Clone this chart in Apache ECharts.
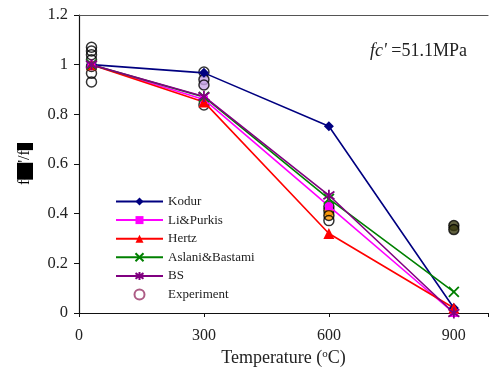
<!DOCTYPE html>
<html>
<head>
<meta charset="utf-8">
<script src="https://cdn.jsdelivr.net/npm/echarts@6/dist/echarts.min.js"></script>
<style>
  html, body { margin: 0; padding: 0; background: #fff; }
  #chart { width: 491px; height: 373px; }
</style>
</head>
<body>
<div id="chart"></div>
<script>
// model curves, temperatures in °C
const temps = [30, 300, 600, 900]
const kodur = [1.0, 0.967, 0.752, 0.02]
const liPurkis = [1.0, 0.86, 0.43, 0.0]
const hertz = [1.0, 0.85, 0.32, 0.02]
const aslani = [1.0, 0.87, 0.46, 0.085]
const bs = [1.0, 0.872, 0.474, 0.0]

// test results
const expTemps = [30, 30, 30, 30, 30, 30, 30, 300, 300, 300, 300, 600, 600, 600, 600, 900, 900]
const expValues = [1.07, 1.055, 1.04, 1.02, 0.993, 0.965, 0.93, 0.97, 0.94, 0.918, 0.838, 0.428, 0.412, 0.393, 0.372, 0.352, 0.336]
const expFill = ['none', 'none', 'none', 'none', 'none', 'none', 'none', 'none', '#c9a8e8', '#c9a8e8', 'none', '#b98fe0', '#ff9900', '#ff9900', 'none', '#3a3a10', '#3a3a10']

const yTicks = [0, 0.2, 0.4, 0.6, 0.8, 1, 1.2]
const xTicks = [0, 300, 600, 900]

const serif = '"Liberation Serif", "DejaVu Serif", serif'
const pair = (xs, ys) => xs.map((x, i) => [x, ys[i]])

const crossPath = 'path://M0,0L10,10M10,0L0,10'
const starPath = 'path://M0,1.5L10,8.5M10,1.5L0,8.5M5,0L5,10'

function lineSeries(name, values, color, symbol, size, stroked) {
  return {
    name: name,
    type: 'line',
    data: pair(temps, values),
    symbol: symbol,
    symbolSize: size,
    lineStyle: { color: color, width: 1.6 },
    itemStyle: stroked
      ? { color: 'rgba(0,0,0,0)', borderColor: color, borderWidth: 1.8 }
      : { color: color },
    emphasis: { disabled: true }
  }
}

const chart = echarts.init(document.getElementById('chart'))

chart.setOption({
  animation: false,
  textStyle: { fontFamily: serif },
  grid: { left: 79, right: 0, top: 15, bottom: 60 },
  legend: {
    orient: 'vertical',
    left: 110,
    top: 190,
    itemWidth: 47,
    itemHeight: 10,
    itemGap: 5.6,
    textStyle: { fontFamily: serif, fontSize: 13, color: '#222' },
    data: [
      'Kodur', 'Li&Purkis', 'Hertz', 'Aslani&Bastami', 'BS',
      { name: 'Experiment', icon: 'circle', itemStyle: { color: '#fff', borderColor: '#993366', borderWidth: 2 } }
    ]
  },
  graphic: [{
    type: 'text',
    left: 370,
    top: 42,
    style: {
      text: '{i|fc\'} =51.1MPa',
      font: '18px ' + serif,
      fill: '#222',
      rich: { i: { fontStyle: 'italic', fontFamily: serif, fontSize: 18 } }
    }
  }],
  xAxis: [{
    type: 'value',
    min: 0,
    max: 982,
    interval: 300,
    name: 'Temperature ({s|o}C)',
    nameLocation: 'middle',
    nameGap: 36,
    nameTextStyle: {
      fontFamily: serif, fontSize: 18, color: '#222',
      rich: { s: { fontSize: 11, verticalAlign: 'top', padding: [0, 0, 7, 0], fontFamily: serif } }
    },
    axisLine: { lineStyle: { color: '#111', width: 1.2 } },
    axisTick: { show: true, length: 4, lineStyle: { color: '#111' } },
    axisLabel: {
      margin: 15, fontSize: 16, color: '#222', fontFamily: serif,
      formatter: v => (xTicks.includes(v) ? String(v) : '')
    },
    splitLine: { show: false }
  }, {
    type: 'value',
    position: 'top',
    min: 0,
    max: 982,
    axisLine: { show: true, lineStyle: { color: '#555', width: 1.2 } },
    axisTick: { show: false },
    axisLabel: { show: false },
    splitLine: { show: false }
  }],
  yAxis: {
    type: 'value',
    min: 0,
    max: 1.2,
    interval: 0.2,
    name: 'f{k|cT}\'/f{k|c}',
    nameLocation: 'middle',
    nameGap: 46,
    nameTextStyle: {
      fontFamily: serif, fontSize: 16, color: '#000',
      rich: { k: { backgroundColor: '#000', color: '#000', fontSize: 16, fontFamily: serif } }
    },
    axisLine: { show: true, lineStyle: { color: '#111', width: 1.2 } },
    axisTick: { show: true, length: 5, lineStyle: { color: '#111' } },
    axisLabel: {
      margin: 11, fontSize: 16.5, color: '#222', fontFamily: serif,
      formatter: v => (yTicks.includes(Math.round(v * 10) / 10) ? String(Math.round(v * 10) / 10) : '')
    },
    splitLine: { show: false }
  },
  series: [
    lineSeries('Kodur', kodur, '#000080', 'diamond', 10, false),
    lineSeries('Li&Purkis', liPurkis, '#ff00ff', 'rect', 8, false),
    lineSeries('Hertz', hertz, '#ff0000', 'triangle', 11, false),
    lineSeries('Aslani&Bastami', aslani, '#008000', crossPath, 10, true),
    lineSeries('BS', bs, '#800080', starPath, 11, true),
    {
      name: 'Experiment',
      type: 'scatter',
      symbol: 'circle',
      symbolSize: 10,
      data: expTemps.map((t, i) => ({
        value: [t, expValues[i]],
        itemStyle: { color: expFill[i] === 'none' ? 'rgba(0,0,0,0)' : expFill[i] }
      })),
      itemStyle: { borderColor: '#000', borderWidth: 1.5 },
      emphasis: { disabled: true },
      z: 1
    }
  ]
})

window.addEventListener('resize', () => {
  chart.resize()
})
</script>
</body>
</html>
